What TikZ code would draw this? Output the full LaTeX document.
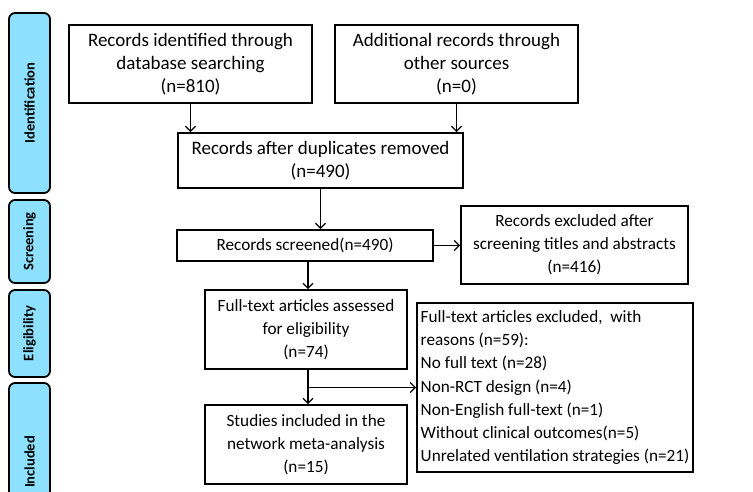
\documentclass[tikz,border=0pt]{standalone}
\usepackage{fontspec}
\setmainfont{Carlito}
\usetikzlibrary{arrows.meta}
\definecolor{stageblue}{RGB}{142,224,255}
\tikzset{
  box/.style={draw=black, line width=1.8pt, fill=white, align=center, inner sep=2pt,
    font=\fontsize{19}{23}\selectfont},
  smallbox/.style={box, font=\fontsize{17.2}{23.2}\selectfont},
  stage/.style={draw=black, line width=1.8pt, fill=stageblue, rounded corners=6pt,
    rotate=90, font=\fontsize{14.5}{16}\selectfont\bfseries, inner sep=0pt},
  conn/.style={line width=1.3pt, -{Straight Barb[length=5pt,width=10pt,line width=1.3pt]}}
}
\begin{document}
\begin{tikzpicture}[x=1pt,y=-1pt]
\useasboundingbox (0,0) rectangle (753,491);
\begin{scope}
\clip (0,0) rectangle (753,491);
% stage labels
\node[stage, minimum width=180pt, minimum height=41pt] (sid) at (29.5,103) {Identification};
\node[stage, minimum width=83pt, minimum height=41pt] (ssc) at (29.5,241.5) {Screening};
\node[stage, minimum width=87pt, minimum height=41pt] (sel) at (29.5,333.5) {Eligibility};
\node[stage, minimum width=158pt, minimum height=41pt] (sin) at (29.5,462) {Included};
\end{scope}
% boxes
\node[box, minimum width=243pt, minimum height=78pt] (db) at (190.5,64)
  {Records identified through\\database searching\\(n=810)};
\node[box, minimum width=243pt, minimum height=78pt] (add) at (456.5,64)
  {Additional records through\\other sources\\(n=0)};
\node[box, minimum width=285pt, minimum height=55pt] (dup) at (320.5,160.5)
  {Records after duplicates removed\\(n=490)};
\node[smallbox, minimum width=256pt, minimum height=31pt] (scr) at (305,245.5)
  {Records screened(n=490)};
\node[smallbox, minimum width=227pt, minimum height=78pt] (exc) at (574.5,245)
  {Records excluded after\\screening titles and abstracts\\(n=416)};
\node[smallbox, minimum width=202pt, minimum height=79pt] (ft) at (306,329.5)
  {Full-text articles assessed\\for eligibility\\(n=74)};
\node[smallbox, minimum width=202pt, minimum height=79pt] (inc) at (306,444.5)
  {Studies included in the\\network meta-analysis\\(n=15)};
\node[smallbox, inner xsep=3pt, minimum width=276pt, minimum height=169pt, align=left] (ftx) at (555,387.5)
  {Full-text articles excluded,\ \ with\\reasons (n=59):\\No full text (n=28)\\Non-RCT design (n=4)\\Non-English full-text (n=1)\\Without clinical outcomes(n=5)\\Unrelated ventilation strategies (n=21)};
% connectors
\draw[conn] (db.south) -- (db.south |- dup.north);
\draw[conn] (add.south) -- (add.south |- dup.north);
\draw[conn] (dup.south) -- (dup.south |- scr.north);
\draw[conn] (scr.east) -- (exc.west |- scr.east);
\draw[conn] ([xshift=3pt]scr.south) -- ([xshift=3pt]scr.south |- ft.north);
\draw[conn] ([xshift=2pt]ft.south) -- ([xshift=2pt]ft.south |- inc.north);
\coordinate (br) at ([xshift=2pt]ft.south |- ftx.west);
\draw[conn] (br) -- (ftx.west);
\end{tikzpicture}
\end{document}
